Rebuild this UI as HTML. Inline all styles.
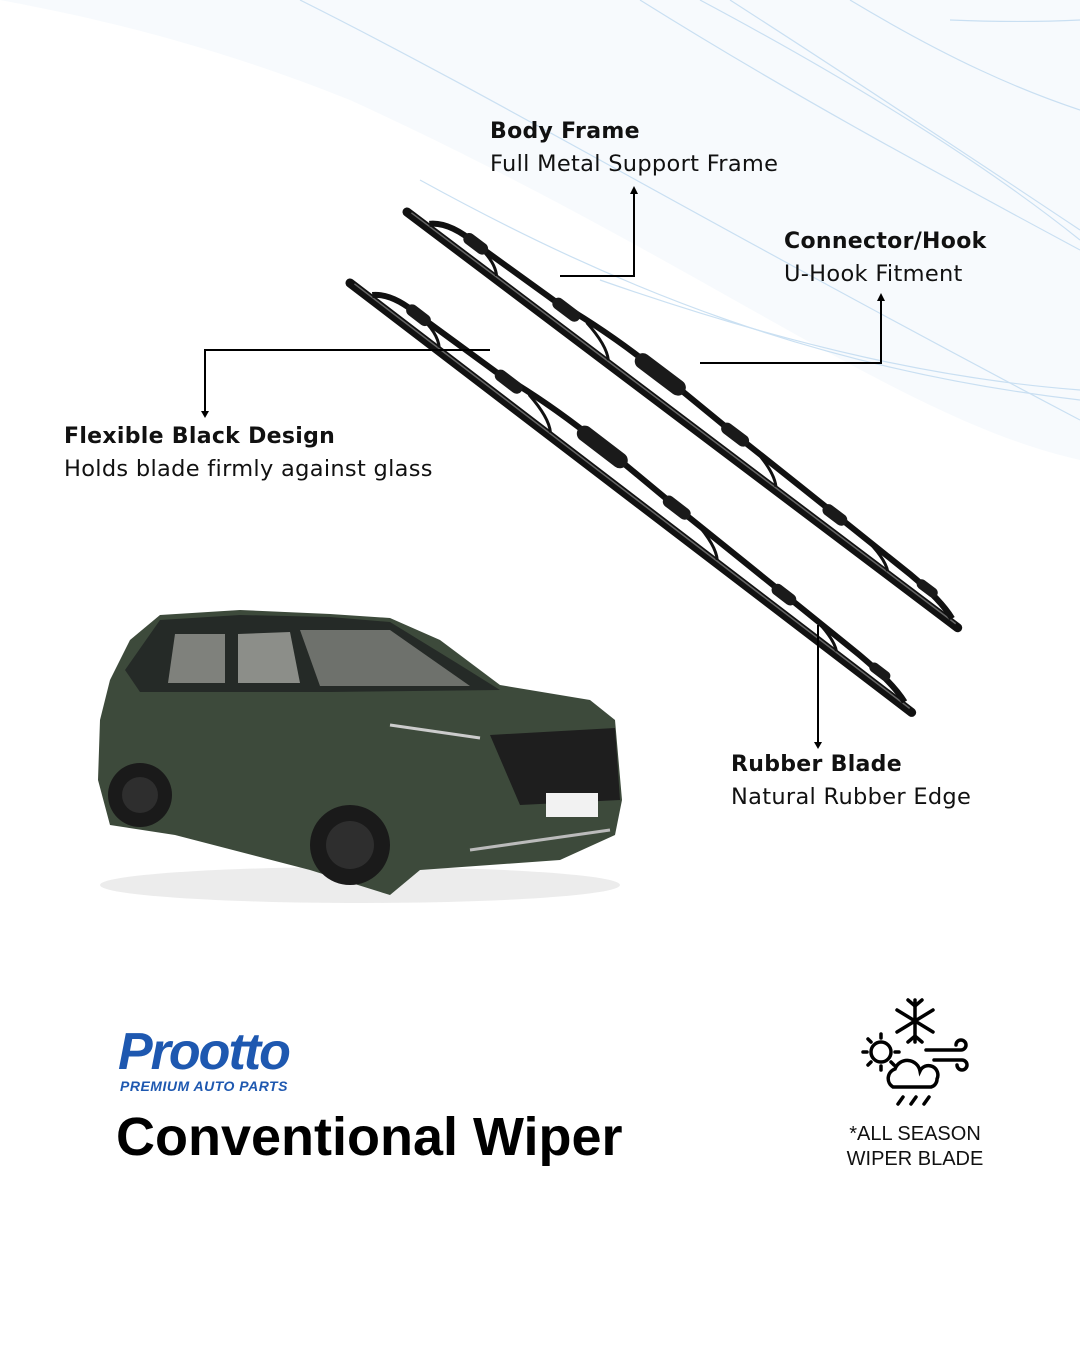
<!DOCTYPE html>
<html><head><meta charset="utf-8"><style>
html,body{margin:0;padding:0;}
body{width:1080px;height:1350px;position:relative;overflow:hidden;background:#fff;font-family:"Liberation Sans",sans-serif;}
.t{position:absolute;font-size:22.5px;color:#111;line-height:33px;font-family:"DejaVu Sans","Liberation Sans",sans-serif;letter-spacing:0.3px}
.t b{font-weight:bold;font-size:22px}
</style></head><body>
<svg width="1080" height="1350" style="position:absolute;left:0;top:0">
<defs>
<g id="blade">
<line x1="0" y1="0" x2="100%" y2="0" stroke="none"/>
</g>
</defs>
<path d="M0 0 H1080 V460 C900 420 700 260 350 100 C200 40 80 15 0 0Z" fill="#f7fafd"/>
<g fill="none" stroke="#c5ddf1" stroke-width="1.2" opacity="0.9">
<path d="M300 0 C500 100 700 220 1080 420"/>
<path d="M640 0 C800 100 950 180 1080 250"/>
<path d="M700 0 C850 80 980 160 1080 240"/>
<path d="M730 0 C870 90 990 170 1080 230"/>
<path d="M850 0 C950 60 1020 90 1080 110"/>
<path d="M950 20 C1000 22 1040 22 1080 20"/>
<path d="M420 180 C620 290 820 370 1080 400"/>
<path d="M600 280 C800 350 950 380 1080 390"/>
</g>
<!-- blade 1 -->
<g transform="translate(407,212) rotate(37.05)">
<line x1="0" y1="0" x2="690" y2="0" stroke="#111" stroke-width="9" stroke-linecap="round"/>
<line x1="4" y1="-2" x2="686" y2="-2" stroke="#666" stroke-width="1.5"/>
<path d="M25 -4 Q40 -18 75 -16 L170 -18 Q230 -26 300 -24 L400 -20 L480 -18 Q560 -16 620 -14 Q660 -12 680 -4" fill="none" stroke="#111" stroke-width="6"/>
<g fill="none" stroke="#111" stroke-width="3">
<path d="M75 -16 Q100 -14 110 -3"/><path d="M210 -20 Q240 -14 250 -3"/><path d="M420 -20 Q450 -14 460 -3"/><path d="M560 -16 Q590 -12 600 -3"/>
</g>
<g fill="#1a1a1a"><rect x="60" y="-22" width="28" height="12" rx="6"/><rect x="170" y="-24" width="32" height="12" rx="6"/><rect x="270" y="-31" width="60" height="16" rx="8"/><rect x="380" y="-26" width="32" height="12" rx="6"/><rect x="510" y="-22" width="28" height="12" rx="6"/><rect x="630" y="-18" width="24" height="10" rx="5"/></g>
</g>
<!-- blade 2 -->
<g transform="translate(350,283) rotate(37.4)">
<line x1="0" y1="0" x2="707" y2="0" stroke="#111" stroke-width="9" stroke-linecap="round"/>
<line x1="4" y1="-2" x2="703" y2="-2" stroke="#666" stroke-width="1.5"/>
<path d="M25 -4 Q40 -18 75 -16 L170 -18 Q230 -26 300 -24 L400 -20 L480 -18 Q560 -16 630 -14 Q675 -12 695 -4" fill="none" stroke="#111" stroke-width="6"/>
<g fill="none" stroke="#111" stroke-width="3">
<path d="M75 -16 Q100 -14 110 -3"/><path d="M210 -20 Q240 -14 250 -3"/><path d="M420 -20 Q450 -14 460 -3"/><path d="M570 -16 Q600 -12 610 -3"/>
</g>
<g fill="#1a1a1a"><rect x="60" y="-22" width="28" height="12" rx="6"/><rect x="170" y="-24" width="32" height="12" rx="6"/><rect x="270" y="-31" width="60" height="16" rx="8"/><rect x="380" y="-26" width="32" height="12" rx="6"/><rect x="520" y="-22" width="28" height="12" rx="6"/><rect x="645" y="-18" width="24" height="10" rx="5"/></g>
</g>
<!-- connectors -->
<g stroke="#000" stroke-width="2" fill="none">
<polyline points="560,276 634,276 634,192"/>
<polyline points="700,363 881,363 881,299"/>
<polyline points="490,350 205,350 205,412"/>
<polyline points="818,625 818,744"/>
</g>
<g fill="#000">
<polygon points="630,194 638,194 634,186"/>
<polygon points="877,301 885,301 881,293"/>
<polygon points="201,411 209,411 205,418"/>
<polygon points="814,742 822,742 818,749"/>
</g>
<!-- car -->
<ellipse cx="360" cy="885" rx="260" ry="18" fill="#e4e4e4" opacity="0.7"/>
<path d="M100 720 L110 680 L130 640 L160 615 L240 610 L330 614 L390 618 L440 640 L500 685 L590 700 L615 720 L622 800 L615 835 L560 860 L420 870 L390 895 L310 870 L175 835 L110 825 L98 780Z" fill="#3d4a3b"/>
<path d="M160 620 L240 615 L330 617 L390 622 L460 665 L500 690 L330 692 L230 692 L140 692 L125 670Z" fill="#252a27"/>
<path d="M300 630 L390 630 L470 686 L320 686Z" fill="#6e716c"/>
<path d="M175 634 L225 634 L225 683 L168 683Z" fill="#7f817c"/>
<path d="M238 634 L290 632 L300 683 L238 683Z" fill="#8c8e89"/>
<path d="M490 735 L615 728 L620 800 L520 805 L505 770Z" fill="#1e1e1e"/>
<path d="M390 725 L480 738" stroke="#ccc" stroke-width="3"/>
<rect x="546" y="793" width="52" height="24" fill="#f2f2f2"/>
<path d="M470 850 L610 830" stroke="#bbb" stroke-width="3"/>
<circle cx="140" cy="795" r="32" fill="#1a1a1a"/><circle cx="140" cy="795" r="18" fill="#2e2e2e"/>
<circle cx="350" cy="845" r="40" fill="#1a1a1a"/><circle cx="350" cy="845" r="24" fill="#2e2e2e"/>
<!-- icon -->
<g stroke="#000" stroke-width="3.5" fill="none" stroke-linecap="round">
<path d="M915 1000 V1042 M897 1010 L933 1032 M897 1032 L933 1010"/>
<path d="M908 1000 L915 1006 L922 1000 M908 1042 L915 1036 L922 1042"/>
<circle cx="881" cy="1052" r="10"/>
<path d="M881 1034 v4 M881 1066 v4 M863 1052 h4 M895 1052 h4 M868 1039 l3 3 M894 1065 l-3 -3 M868 1065 l3 -3"/>
<path d="M893 1087 a10 10 0 0 1 2 -18 a13 13 0 0 1 25 2 a8 8 0 0 1 17 8 a8 8 0 0 1 -6 8 Z"/>
<path d="M926 1050 h35 a5 5 0 1 0 -5 -5 M934 1060 h28 a5 5 0 1 1 -5 5"/>
<path d="M898 1104 l5 -7 M911 1104 l5 -7 M924 1104 l5 -7"/>
</g>
</svg>
<div class="t" style="left:490px;top:115px"><b>Body Frame</b><br>Full Metal Support Frame</div>
<div class="t" style="left:784px;top:225px"><b>Connector/Hook</b><br>U-Hook Fitment</div>
<div class="t" style="left:64px;top:420px"><b>Flexible Black Design</b><br>Holds blade firmly against glass</div>
<div class="t" style="left:731px;top:748px"><b>Rubber Blade</b><br>Natural Rubber Edge</div>
<div style="position:absolute;left:118px;top:1022px;font-size:52px;font-weight:bold;font-style:italic;color:#1e58b0;letter-spacing:-2px">Prootto</div>
<div style="position:absolute;left:120px;top:1078px;font-size:14px;font-weight:bold;font-style:italic;color:#1e58b0;letter-spacing:0.5px">PREMIUM AUTO PARTS</div>
<div style="position:absolute;left:116px;top:1106px;font-size:54px;font-weight:bold;color:#000">Conventional Wiper</div>
<div style="position:absolute;left:830px;top:1122px;width:170px;text-align:center;font-size:20px;line-height:25px;color:#111">*ALL SEASON<br>WIPER BLADE</div>
</body></html>
